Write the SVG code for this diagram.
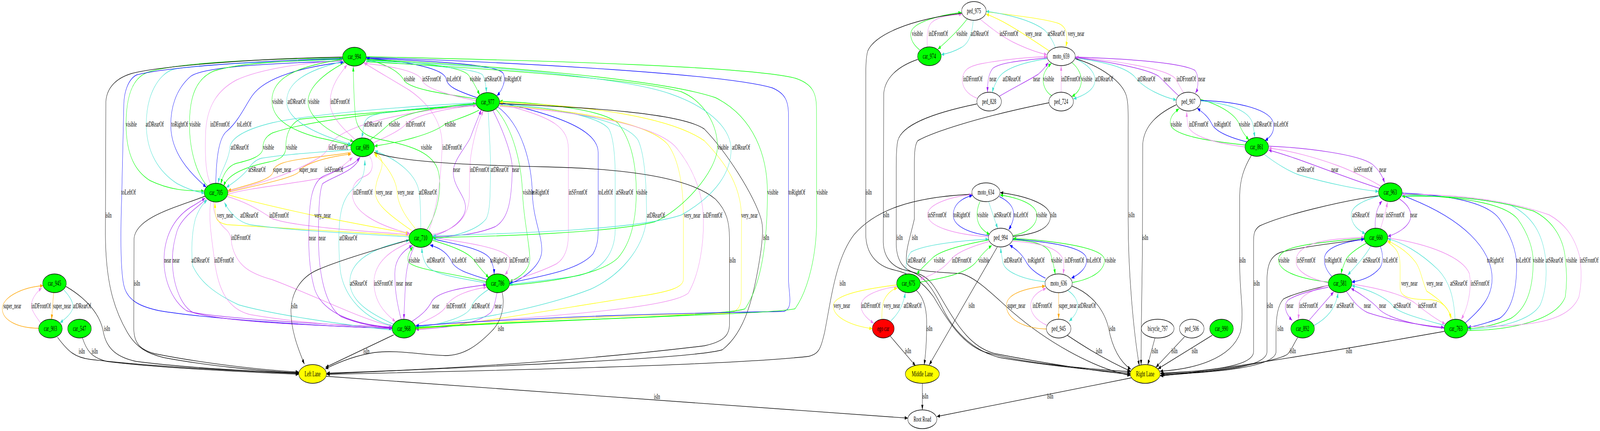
<svg xmlns="http://www.w3.org/2000/svg" width="7043" height="1103" viewBox="0 0 7043 1103" preserveAspectRatio="none" style="max-width:100vw;max-height:100vh">
<style>
text{font-family:"Liberation Serif","Times New Roman",serif;font-size:18px;text-anchor:middle;fill:#000}
.n ellipse{stroke:#000;stroke-width:1.4}
.g ellipse{fill:#00ff00}
.w ellipse{fill:#fff}
.y ellipse{fill:#ffff00}
.r ellipse{fill:#ff0000}
#edges path{fill:none;stroke-width:1.35}
#edges path.k{stroke:#000;marker-end:url(#mk)}
#edges path.G{stroke:#00ff00;marker-end:url(#mG)}
#edges path.T{stroke:#40e0d0;marker-end:url(#mT)}
#edges path.V{stroke:#ee82ee;marker-end:url(#mV)}
#edges path.B{stroke:#0000ff;marker-end:url(#mB)}
#edges path.P{stroke:#a020f0;marker-end:url(#mP)}
#edges path.Y{stroke:#ffff00;marker-end:url(#mY)}
#edges path.O{stroke:#ffa500;marker-end:url(#mO)}
</style>
<defs>
<marker id="mk" viewBox="0 0 14 10" refX="13.3" refY="5" markerWidth="14" markerHeight="10" markerUnits="userSpaceOnUse" orient="auto"><path d="M0,0.3 L13.3,5 L0,9.7 Z" fill="#000"/></marker>
<marker id="mG" viewBox="0 0 14 10" refX="13.3" refY="5" markerWidth="14" markerHeight="10" markerUnits="userSpaceOnUse" orient="auto"><path d="M0,0.3 L13.3,5 L0,9.7 Z" fill="#00ff00"/></marker>
<marker id="mT" viewBox="0 0 14 10" refX="13.3" refY="5" markerWidth="14" markerHeight="10" markerUnits="userSpaceOnUse" orient="auto"><path d="M0,0.3 L13.3,5 L0,9.7 Z" fill="#40e0d0"/></marker>
<marker id="mV" viewBox="0 0 14 10" refX="13.3" refY="5" markerWidth="14" markerHeight="10" markerUnits="userSpaceOnUse" orient="auto"><path d="M0,0.3 L13.3,5 L0,9.7 Z" fill="#ee82ee"/></marker>
<marker id="mB" viewBox="0 0 14 10" refX="13.3" refY="5" markerWidth="14" markerHeight="10" markerUnits="userSpaceOnUse" orient="auto"><path d="M0,0.3 L13.3,5 L0,9.7 Z" fill="#0000ff"/></marker>
<marker id="mP" viewBox="0 0 14 10" refX="13.3" refY="5" markerWidth="14" markerHeight="10" markerUnits="userSpaceOnUse" orient="auto"><path d="M0,0.3 L13.3,5 L0,9.7 Z" fill="#a020f0"/></marker>
<marker id="mY" viewBox="0 0 14 10" refX="13.3" refY="5" markerWidth="14" markerHeight="10" markerUnits="userSpaceOnUse" orient="auto"><path d="M0,0.3 L13.3,5 L0,9.7 Z" fill="#ffff00"/></marker>
<marker id="mO" viewBox="0 0 14 10" refX="13.3" refY="5" markerWidth="14" markerHeight="10" markerUnits="userSpaceOnUse" orient="auto"><path d="M0,0.3 L13.3,5 L0,9.7 Z" fill="#ffa500"/></marker>
</defs>
<rect width="7043" height="1103" fill="#fff"/>
<g id="edges">
<path class="G" d="M1508,148 C1300,150 800,155 650,185 C580,200 555,250 555,318 C555,400 600,440 660,462 C760,490 840,488 899,489"/>
<path class="T" d="M1508,152 C1200,158 850,165 760,178 C700,190 644,240 644,318 C644,390 700,440 780,470 C830,485 870,492 900,494"/>
<path class="B" d="M1508,156 C1200,162 900,170 840,195 C770,230 750,280 752,325 C755,390 830,440 908,479"/>
<path class="G" d="M914,477 C870,450 834,390 834,318 C834,240 870,200 940,182 C1050,160 1300,155 1508,151"/>
<path class="V" d="M927,470 C905,445 902,400 905,340 C910,270 960,230 1040,205 C1150,175 1350,160 1510,155"/>
<path class="B" d="M950,469 C952,400 965,350 1000,335 C1050,310 1080,270 1110,245 C1170,195 1350,170 1513,159"/>
<path class="k" d="M1508,146 C1100,150 700,170 580,188 C510,200 470,225 466,260 L464,600 C465,720 500,790 560,850 C600,890 650,905 720,915 C900,935 1150,950 1315,954"/>
<path class="B" d="M1508,150 C1100,155 700,175 600,192 C560,205 546,240 545,268 L536,497 C530,600 530,690 545,730 C560,770 620,785 700,795 C900,815 1400,835 1726,840"/>
<path class="k" d="M903,502 C780,530 600,555 590,610 L589,840 C589,880 620,895 680,905 C850,925 1100,945 1315,952"/>
<path class="P" d="M1727,837 C1400,830 900,812 820,795 C760,770 722,720 722,666 C722,610 760,560 840,530 C870,520 890,512 903,507"/>
<path class="P" d="M908,510 C880,525 800,555 780,590 C765,620 759,640 759,666 C759,720 790,780 850,800 C1000,825 1400,833 1727,841"/>
<path class="T" d="M1728,845 C1500,830 1200,805 1050,780 C940,750 880,720 848,680 C842,650 842,600 860,560 C875,535 895,520 912,512"/>
<path class="V" d="M928,516 C915,560 935,620 944,666 C960,740 1000,790 1100,805 C1300,825 1550,836 1727,839"/>
<path class="V" d="M940,516 C935,545 960,570 1000,590 C1015,600 1018,610 1020,625 C1040,680 1100,700 1200,716 C1400,760 1600,820 1728,835"/>
<path class="Y" d="M1800,603 C1500,592 1200,582 1000,575 C955,570 948,560 947,540 L946,519"/>
<path class="T" d="M1800,606 C1500,596 1250,588 1100,575 C1050,568 1010,545 988,518"/>
<path class="V" d="M1001,503 C1100,520 1160,545 1200,560 C1300,580 1600,592 1800,600"/>
<path class="Y" d="M1002,498 C1100,515 1250,535 1378,551 C1550,570 1700,588 1800,597"/>
<path class="T" d="M2096,263 C1700,275 1350,295 1200,314 C1050,335 1015,360 1012,377 C1008,410 970,440 960,469"/>
<path class="G" d="M2096,266 C1700,285 1350,310 1200,340 C1165,350 1157,365 1157,380 C1155,400 1100,410 1040,418 C1000,425 980,450 972,471"/>
<path class="G" d="M2097,270 C1700,285 1400,300 1320,305 C1270,320 1258,350 1258,377 C1258,400 1230,410 1180,415 C1060,430 1000,450 984,477"/>
<path class="T" d="M1545,383 C1400,390 1250,395 1150,405 C1120,410 1100,425 1090,434 C1060,455 1020,470 996,480"/>
<path class="O" d="M1546,390 C1450,400 1300,405 1240,418 C1210,425 1203,432 1202,440 C1195,460 1100,472 1003,488"/>
<path class="O" d="M1003,492 C1150,472 1290,455 1316,440 C1325,425 1400,405 1546,394"/>
<path class="V" d="M1003,497 C1100,480 1300,470 1420,455 C1480,440 1520,420 1552,403"/>
<path class="V" d="M1002,490 C1150,470 1300,440 1400,405 C1430,395 1440,385 1445,377 C1480,330 1700,290 2095,268"/>
<path class="G" d="M1508,152 C1300,170 1200,200 1197,255 C1195,300 1260,330 1400,352 C1480,362 1520,368 1546,373"/>
<path class="T" d="M1510,157 C1350,180 1262,210 1262,260 C1262,310 1400,345 1546,370"/>
<path class="G" d="M1518,160 C1420,190 1356,225 1356,260 C1356,305 1470,345 1556,362"/>
<path class="V" d="M1562,356 C1490,320 1451,290 1453,260 C1455,220 1495,190 1528,166"/>
<path class="G" d="M2097,253 C1950,240 1800,228 1778,205 C1755,180 1680,160 1612,152"/>
<path class="V" d="M2098,258 C1990,245 1870,228 1858,205 C1840,180 1700,168 1604,162"/>
<path class="B" d="M2100,250 C2010,232 1970,222 1964,202 C1955,175 1800,158 1613,149"/>
<path class="G" d="M1612,153 C1850,160 2030,170 2062,192 C2080,206 2098,226 2112,243"/>
<path class="T" d="M1612,157 C1850,165 2100,175 2125,192 C2136,205 2140,220 2141,237"/>
<path class="B" d="M1612,149 C1900,156 2195,165 2215,188 C2230,205 2210,232 2187,245"/>
<path class="T" d="M2095,268 C1850,275 1680,285 1630,298 C1605,305 1600,318 1599,330 C1597,340 1594,348 1592,353"/>
<path class="G" d="M1628,358 C1660,345 1690,330 1712,318 C1760,290 1950,270 2095,265"/>
<path class="V" d="M1642,366 C1700,350 1760,335 1786,318 C1820,295 1980,275 2097,270"/>
<path class="G" d="M2108,282 C2050,300 1980,310 1958,318 C1900,345 1750,365 1648,374"/>
<path class="G" d="M1880,587 C1930,540 1945,480 1930,440 C1910,390 1800,372 1700,360 C1620,352 1575,340 1565,300 C1558,260 1556,210 1555,170"/>
<path class="V" d="M1888,590 C1920,540 1940,470 1946,377 C1950,320 1900,270 1800,230 C1700,195 1640,175 1600,160"/>
<path class="V" d="M1626,399 C1645,415 1645,440 1610,450 C1565,460 1550,475 1551,497 C1552,540 1650,575 1805,598"/>
<path class="Y" d="M1812,590 C1700,545 1652,520 1652,492 C1652,460 1680,440 1682,421 C1683,405 1665,395 1645,390"/>
<path class="Y" d="M1830,586 C1800,565 1752,530 1748,492 C1745,460 1700,420 1647,394"/>
<path class="T" d="M1852,585 C1852,540 1850,510 1845,492 C1835,450 1760,410 1650,386"/>
<path class="P" d="M1727,838 C1550,830 1420,800 1385,740 C1365,700 1359,650 1359,609 C1359,520 1370,470 1420,452 C1500,430 1560,425 1583,402"/>
<path class="P" d="M1586,402 C1560,440 1470,450 1420,470 C1405,490 1402,540 1402,609 C1402,700 1430,780 1500,810 C1580,830 1660,836 1727,840"/>
<path class="T" d="M1728,834 C1600,815 1520,760 1500,700 C1493,670 1491,640 1492,600 C1494,540 1510,505 1560,480 C1600,460 1606,440 1606,410"/>
<path class="T" d="M1733,830 C1640,805 1545,775 1540,725 C1537,680 1600,650 1700,630 C1750,620 1780,617 1801,615"/>
<path class="V" d="M1806,620 C1720,640 1650,670 1646,720 C1645,770 1690,800 1741,823"/>
<path class="P" d="M1766,818 C1745,770 1738,740 1738,700 C1738,660 1780,640 1815,628"/>
<path class="P" d="M1823,631 C1800,660 1787,690 1785,725 C1782,760 1779,790 1778,817"/>
<path class="G" d="M2140,721 C2000,700 1820,690 1798,670 C1790,660 1800,645 1818,631"/>
<path class="T" d="M2140,724 C2000,710 1900,700 1880,680 C1862,665 1858,650 1857,634"/>
<path class="B" d="M2143,715 C2060,700 2000,690 1985,666 C1960,640 1920,632 1893,627"/>
<path class="G" d="M1904,615 C1990,630 2060,645 2087,666 C2110,685 2135,700 2152,711"/>
<path class="B" d="M1904,611 C2000,625 2120,635 2155,660 C2170,675 2175,690 2175,702"/>
<path class="V" d="M1904,608 C2050,620 2220,635 2242,660 C2250,680 2235,695 2222,703"/>
<path class="P" d="M1812,823 C1860,805 1885,790 1902,770 C1930,745 2050,735 2141,729"/>
<path class="V" d="M1826,833 C1900,815 1950,800 1965,783 C1990,755 2080,740 2142,735"/>
<path class="T" d="M2152,740 C2100,760 2080,775 2075,785 C2060,810 1950,830 1830,838"/>
<path class="P" d="M2188,749 C2180,770 2175,790 2160,800 C2100,830 1950,840 1830,843"/>
<path class="P" d="M1904,604 C1990,590 2050,560 2049,530 C2048,500 1996,480 1995,440 C1994,410 2060,370 2072,350 C2090,320 2108,298 2118,281"/>
<path class="V" d="M1903,600 C2000,590 2065,560 2066,500 C2067,460 2066,420 2075,390 C2090,340 2110,305 2128,283"/>
<path class="T" d="M2149,285 C2155,350 2160,400 2159,434 C2158,500 2158,540 2140,560 C2100,590 2000,605 1905,612"/>
<path class="P" d="M2170,283 C2220,340 2256,400 2255,434 C2252,510 2240,560 2180,580 C2100,600 2000,605 1905,606"/>
<path class="G" d="M2183,279 C2260,330 2295,420 2300,492 C2305,560 2330,620 2332,660 C2334,690 2290,710 2243,721"/>
<path class="B" d="M2190,273 C2300,320 2340,420 2343,492 C2346,560 2385,600 2385,640 C2385,680 2300,715 2243,726"/>
<path class="V" d="M2243,720 C2330,705 2400,690 2450,675 C2490,660 2502,630 2502,600 L2502,380 C2500,330 2450,300 2200,266"/>
<path class="B" d="M2243,724 C2400,705 2550,690 2610,650 C2630,630 2633,610 2633,590 L2633,390 C2633,340 2500,300 2199,262"/>
<path class="T" d="M2199,265 C2450,275 2640,300 2680,330 C2700,350 2708,400 2708,450 L2708,590 C2706,650 2650,690 2550,705 C2450,715 2330,722 2243,728"/>
<path class="G" d="M2243,730 C2450,720 2650,700 2720,660 C2780,620 2800,560 2801,492 C2800,420 2780,360 2720,315 C2650,280 2400,265 2199,259"/>
<path class="T" d="M2199,268 C2500,280 2760,310 2810,360 C2840,400 2846,480 2846,551 C2846,620 2750,700 2600,740 C2400,785 2100,820 1830,836"/>
<path class="Y" d="M2199,270 C2500,280 2850,310 2940,370 C2990,410 3008,480 3008,551 L3008,715 C3008,735 2950,745 2850,755 C2500,785 2100,830 1830,840"/>
<path class="V" d="M2199,272 C2550,285 2900,320 2980,380 C3050,430 3090,490 3096,551 C3100,620 3080,700 3030,750 C2950,790 2400,810 1830,834"/>
<path class="Y" d="M1830,842 C2300,815 2900,805 3200,802 C3250,800 3263,780 3263,760 L3264,560 C3265,480 3200,420 3100,360 C2950,300 2600,270 2200,262"/>
<path class="k" d="M2199,265 C2600,275 3000,290 3100,330 C3200,390 3320,500 3350,560 C3360,580 3358,600 3350,640 C3320,760 3280,850 3180,895 C3050,920 2000,940 1438,957"/>
<path class="k" d="M1647,390 C1750,412 2000,422 2400,427 C2800,432 3050,460 3150,510 C3200,540 3211,570 3211,610 L3211,830 C3211,860 3180,875 3100,885 C2600,920 2000,945 1438,955"/>
<path class="G" d="M1612,158 C2000,170 2800,200 3000,235 C3100,260 3160,320 3158,377 C3155,440 3000,540 2880,568 C2700,595 2200,605 1904,608"/>
<path class="T" d="M1612,155 C2000,165 2700,190 2950,240 C3100,270 3210,320 3218,377 C3222,440 3150,500 3000,550 C2800,590 2200,598 1904,604"/>
<path class="G" d="M1612,152 C2100,165 2900,200 3150,250 C3320,300 3378,400 3378,492 C3378,600 3360,720 3280,790 C3200,810 2400,818 1830,838"/>
<path class="B" d="M1612,147 C2300,160 3200,190 3400,225 C3460,240 3471,260 3471,300 L3471,720 C3475,760 3490,790 3450,797 C3200,800 2500,805 1830,834"/>
<path class="G" d="M1612,145 C2400,155 3300,170 3500,200 C3580,215 3594,240 3594,280 L3595,560 C3595,650 3560,740 3500,790 C3400,805 2500,815 1830,840"/>
<path class="k" d="M2210,748 C2222,775 2215,820 2160,850 C2100,885 2040,910 1960,910 C1850,908 1750,895 1650,902 C1560,910 1480,930 1432,944"/>
<path class="k" d="M1733,857 L1433,940"/>
<path class="k" d="M1800,614 C1650,640 1500,665 1400,690 C1320,710 1285,750 1281,790 C1278,840 1310,890 1340,932"/>
<path class="k" d="M290,733 C370,760 440,800 455,850 C470,895 520,915 600,925 C800,940 1100,950 1315,955"/>
<path class="k" d="M253,863 C300,900 330,915 400,920 C700,940 1100,950 1315,956"/>
<path class="k" d="M363,865 C380,895 400,915 470,925 C700,942 1100,952 1315,958"/>
<path class="O" d="M171,840 C80,840 10,820 10,790 C10,760 100,735 190,731"/>
<path class="V" d="M180,827 C150,805 138,790 138,783 C138,765 160,748 184,737"/>
<path class="O" d="M236,749 L227,818"/>
<path class="T" d="M281,742 C310,760 322,775 321,785 C320,800 290,815 264,826"/>
<path class="k" d="M1435,963 C2000,985 3000,1030 3996,1070"/>
<path class="G" d="M4051,129 C4020,115 4008,100 4009,86 C4012,55 4150,38 4232,32"/>
<path class="V" d="M4082,121 C4080,95 4080,70 4100,58 C4130,42 4180,38 4234,37"/>
<path class="G" d="M4258,48 C4230,70 4180,100 4128,126"/>
<path class="T" d="M4284,52 C4280,80 4270,110 4230,122 C4200,132 4170,137 4143,140"/>
<path class="V" d="M4314,49 C4360,70 4400,90 4460,108 C4520,125 4570,135 4609,140"/>
<path class="Y" d="M4620,131 C4580,115 4540,100 4500,85 C4440,63 4390,46 4340,36"/>
<path class="Y" d="M4340,30 C4450,38 4600,48 4660,60 C4700,70 4700,95 4692,120"/>
<path class="T" d="M4646,122 C4635,105 4620,90 4600,78 C4540,50 4420,35 4341,29"/>
<path class="V" d="M4303,252 C4250,240 4235,220 4236,202 C4240,180 4260,170 4320,163 C4420,152 4530,146 4609,145"/>
<path class="P" d="M4610,148 C4500,155 4400,160 4370,175 C4350,190 4347,210 4347,236"/>
<path class="T" d="M4610,150 C4500,160 4420,175 4395,200 C4380,215 4372,225 4368,237"/>
<path class="P" d="M4400,246 C4460,225 4530,205 4570,190 C4595,178 4605,168 4615,160"/>
<path class="G" d="M4630,245 C4600,235 4590,215 4592,200 C4594,185 4610,172 4628,162"/>
<path class="V" d="M4671,236 L4671,168"/>
<path class="G" d="M4718,160 C4750,175 4762,195 4760,210 C4756,228 4740,240 4718,247"/>
<path class="T" d="M4733,150 C4790,165 4820,185 4820,205 C4820,230 4770,245 4725,253"/>
<path class="T" d="M4733,148 C4850,158 4960,170 5000,200 C5040,228 5120,248 5178,256"/>
<path class="P" d="M5190,246 C5150,225 5120,205 5100,195 C5050,175 4850,155 4733,147"/>
<path class="V" d="M5210,237 C5195,225 5185,210 5175,202 C5140,175 4900,155 4735,146"/>
<path class="P" d="M4733,146 C4950,150 5200,160 5260,180 C5280,195 5275,225 5262,238"/>
<path class="k" d="M4733,150 C4850,170 4940,210 4958,245 C4968,265 4966,300 4966,330 L4966,560 C4966,700 4990,850 5015,936"/>
<path class="k" d="M4234,34 C4000,50 3850,90 3820,130 C3812,145 3811,170 3811,200 L3811,600 C3812,650 3860,680 3930,690 C4010,700 4060,720 4110,760 C4180,830 4240,880 4330,900 C4500,930 4800,945 4976,951"/>
<path class="k" d="M4040,152 C3950,170 3895,200 3890,240 L3888,620 C3890,660 3930,685 3990,692 C4060,700 4100,730 4150,790 C4210,860 4300,900 4400,915 C4600,935 4850,950 4976,955"/>
<path class="k" d="M4300,266 C4100,290 3970,320 3952,360 C3946,375 3945,400 3945,430 L3945,627 C3948,670 3980,693 4040,700 C4090,710 4110,730 4150,770 C4220,840 4280,890 4380,905 C4600,930 4850,952 4976,958"/>
<path class="k" d="M4617,263 C4300,300 4100,340 4040,360 C4027,370 4025,390 4025,420 L4025,560 C4010,600 3985,640 3990,670 C4000,690 4050,695 4230,700 C4300,710 4380,760 4460,800 C4600,870 4800,940 4976,961"/>
<path class="k" d="M5178,268 C5100,290 5035,320 5030,370 L5029,620 C5027,750 5022,860 5023,934"/>
<path class="k" d="M5508,398 C5475,430 5458,460 5457,500 L5457,680 C5458,760 5478,800 5460,850 C5420,920 5250,945 5106,950"/>
<path class="k" d="M6068,501 C5900,515 5650,550 5545,578 C5520,588 5518,600 5518,620 L5518,900 C5518,940 5300,950 5108,955"/>
<path class="k" d="M6006,612 C5900,620 5750,630 5640,645 C5590,655 5577,680 5577,720 L5577,900 C5577,945 5300,952 5110,957"/>
<path class="k" d="M5848,730 C5780,740 5700,750 5650,765 C5625,780 5617,810 5617,850 L5617,900 C5615,940 5350,953 5112,959"/>
<path class="k" d="M5712,864 C5695,880 5685,895 5670,905 C5640,925 5300,955 5107,961"/>
<path class="k" d="M6358,848 C6000,885 5400,945 5107,962"/>
<path class="k" d="M4718,732 C4800,750 4860,790 4880,840 C4900,900 4940,930 4978,945"/>
<path class="k" d="M4698,858 C4780,890 4880,925 4977,950"/>
<path class="k" d="M5084,865 L5052,934"/>
<path class="k" d="M5214,862 L5088,940"/>
<path class="k" d="M5336,858 L5097,944"/>
<path class="k" d="M4980,967 L4124,1066"/>
<path class="k" d="M4060,981 L4060,1049"/>
<path class="k" d="M4390,632 L4090,934"/>
<path class="k" d="M4033,743 C4065,760 4080,790 4079,830 C4079,880 4074,910 4068,934"/>
<path class="k" d="M3917,859 L4030,936"/>
<path class="k" d="M4278,497 C4000,505 3850,540 3760,600 C3680,660 3660,760 3630,850 C3610,900 3600,905 3560,912 C3200,935 2200,948 1438,958"/>
<path class="k" d="M4459,605 C4540,600 4620,590 4624,555 C4626,520 4500,500 4403,493"/>
<path class="V" d="M4352,606 C4200,600 4085,580 4083,550 C4082,520 4200,502 4279,498"/>
<path class="B" d="M4352,603 C4250,595 4195,575 4196,550 C4197,520 4240,506 4281,500"/>
<path class="G" d="M4314,516 C4302,530 4299,545 4302,560 C4308,580 4330,592 4357,600"/>
<path class="T" d="M4352,516 C4365,540 4380,565 4392,585"/>
<path class="B" d="M4399,503 C4440,515 4465,530 4462,552 C4460,568 4450,578 4440,588"/>
<path class="G" d="M4458,603 C4530,595 4565,575 4564,550 C4562,520 4470,505 4402,499"/>
<path class="T" d="M3987,701 C3987,680 3990,660 4010,645 C4070,625 4250,615 4351,612"/>
<path class="G" d="M4352,614 C4250,625 4140,640 4105,660 C4070,680 4050,690 4035,703"/>
<path class="V" d="M4355,618 C4280,630 4210,645 4185,665 C4150,690 4100,705 4051,714"/>
<path class="G" d="M4051,722 C4150,712 4260,700 4300,668 C4330,645 4350,635 4366,628"/>
<path class="T" d="M4601,721 C4500,715 4420,695 4414,670 C4410,655 4406,645 4405,634"/>
<path class="B" d="M4602,712 C4560,700 4530,685 4515,668 C4495,648 4470,637 4444,627"/>
<path class="G" d="M4458,614 C4540,615 4610,625 4625,650 C4635,670 4642,690 4645,702"/>
<path class="V" d="M4458,617 C4550,620 4660,630 4680,665 C4685,680 4682,692 4680,702"/>
<path class="B" d="M4459,612 C4600,618 4770,630 4782,660 C4790,685 4750,702 4716,712"/>
<path class="G" d="M4720,723 C4800,715 4862,695 4862,665 C4860,630 4600,615 4460,610"/>
<path class="V" d="M4607,832 C4560,820 4535,800 4537,780 C4540,760 4570,745 4605,738"/>
<path class="O" d="M4606,842 C4500,840 4430,815 4430,782 C4430,750 4520,738 4601,732"/>
<path class="O" d="M4660,749 L4660,816"/>
<path class="T" d="M4700,743 C4730,755 4745,770 4744,785 C4742,800 4725,812 4706,822"/>
<path class="Y" d="M3948,729 C3800,740 3670,755 3668,782 C3666,815 3760,835 3840,841"/>
<path class="V" d="M3949,733 C3850,742 3790,760 3790,782 C3790,800 3815,815 3846,827"/>
<path class="Y" d="M3882,818 C3882,800 3882,785 3890,770 C3905,750 3930,740 3950,737"/>
<path class="T" d="M3920,822 C3950,805 3975,785 3985,749"/>
<path class="G" d="M5481,371 C5300,360 5160,345 5152,318 C5148,300 5165,290 5190,278"/>
<path class="V" d="M5480,376 C5330,365 5232,345 5228,318 C5225,305 5224,295 5224,286"/>
<path class="B" d="M5488,363 C5400,350 5350,335 5335,318 C5320,300 5300,290 5270,277"/>
<path class="G" d="M5283,254 C5380,270 5440,295 5455,318 C5470,340 5485,350 5498,358"/>
<path class="T" d="M5284,258 C5400,265 5500,280 5515,318 C5520,335 5522,345 5524,352"/>
<path class="B" d="M5285,257 C5450,260 5600,280 5606,318 C5610,340 5590,352 5568,360"/>
<path class="T" d="M5565,395 C5620,420 5680,440 5720,448 C5850,470 5980,485 6068,490"/>
<path class="P" d="M6072,482 C5950,460 5800,425 5700,405 C5650,395 5610,388 5584,384"/>
<path class="V" d="M6078,476 C6000,450 5920,430 5880,422 C5800,405 5680,385 5584,379"/>
<path class="P" d="M5584,374 C5750,378 5980,395 6040,420 C6070,435 6085,450 6095,468"/>
<path class="T" d="M6072,501 C5990,515 5948,530 5948,550 C5948,575 5980,590 6010,598"/>
<path class="P" d="M6053,585 C6053,560 6055,535 6084,514"/>
<path class="V" d="M6077,585 C6090,560 6100,540 6108,517"/>
<path class="P" d="M6160,509 C6200,525 6212,540 6210,555 C6205,580 6150,598 6109,605"/>
<path class="G" d="M5847,722 C5750,715 5630,700 5628,666 C5626,640 5700,630 5800,622 C5900,615 5960,611 6005,610"/>
<path class="V" d="M5846,724 C5760,712 5705,695 5705,668 C5705,640 5760,620 5871,613 C5930,609 5970,609 6006,607"/>
<path class="B" d="M5862,707 C5835,690 5828,675 5830,660 C5835,630 5930,618 6006,612"/>
<path class="G" d="M6016,622 C5960,640 5930,655 5922,668 C5912,682 5906,692 5903,701"/>
<path class="T" d="M6034,630 C6010,655 5970,680 5932,704"/>
<path class="B" d="M6076,630 C6088,650 6090,670 6075,685 C6040,710 5990,718 5950,722"/>
<path class="V" d="M5847,730 C5760,745 5717,760 5717,782 C5717,800 5716,810 5715,818"/>
<path class="P" d="M5762,820 L5871,747"/>
<path class="T" d="M5784,833 C5840,815 5880,790 5890,749"/>
<path class="P" d="M5847,735 C5760,745 5700,755 5670,768 C5650,780 5655,800 5688,820"/>
<path class="P" d="M5926,745 C5960,775 5985,790 6020,800 C6150,825 6280,833 6357,838"/>
<path class="P" d="M6357,840 C6200,830 6100,810 6068,790 C6040,772 5990,752 5947,738"/>
<path class="T" d="M6360,833 C6250,815 6150,800 6130,782 C6100,760 6020,740 5950,731"/>
<path class="V" d="M5950,727 C6100,740 6200,760 6238,780 C6280,800 6330,820 6362,829"/>
<path class="Y" d="M6107,619 C6150,635 6163,650 6163,680 L6163,735 C6163,760 6200,767 6300,767 C6350,770 6380,790 6386,816"/>
<path class="Y" d="M6395,818 C6370,780 6320,760 6280,745 C6260,720 6255,690 6230,670 C6190,640 6140,625 6108,616"/>
<path class="T" d="M6405,817 C6400,760 6380,720 6330,690 C6250,645 6170,620 6109,611"/>
<path class="V" d="M6109,609 C6300,625 6440,660 6468,700 C6480,740 6460,790 6432,817"/>
<path class="B" d="M6449,827 C6520,790 6570,760 6568,710 C6565,640 6450,560 6172,500"/>
<path class="B" d="M6172,494 C6400,500 6550,520 6600,560 C6660,610 6676,650 6676,680 C6676,760 6640,800 6600,815 C6530,830 6490,835 6461,838"/>
<path class="G" d="M6172,497 C6450,505 6620,520 6680,560 C6730,600 6749,640 6749,670 C6748,740 6720,790 6650,815 C6570,835 6500,840 6462,841"/>
<path class="T" d="M6461,843 C6600,840 6740,820 6780,780 C6810,740 6808,690 6803,660 C6790,600 6750,555 6650,525 C6500,505 6300,500 6172,500"/>
<path class="G" d="M6461,846 C6650,845 6850,820 6890,760 C6900,720 6895,690 6890,660 C6880,600 6820,560 6750,540 C6550,505 6350,500 6172,503"/>
<path class="V" d="M6460,836 C6700,835 6900,830 6950,760 C6965,720 6960,690 6955,660 C6930,600 6880,570 6820,550 C6600,505 6350,497 6172,497"/>
</g>
<g id="edge-labels">
<text x="54" y="789">super_near</text><text x="181" y="789">inDFrontOf</text><text x="273" y="789">super_near</text><text x="361" y="789">atDRearOf</text>
<text x="471" y="847">isIn</text><text x="360" y="905">isIn</text><text x="417" y="905">isIn</text>
<text x="478" y="557">isIn</text><text x="566" y="498">toLeftOf</text><text x="603" y="731">isIn</text>
<text x="578" y="324">visible</text><text x="681" y="324">atDRearOf</text><text x="791" y="324">toRightOf</text><text x="859" y="324">visible</text><text x="968" y="324">inDFrontOf</text><text x="1075" y="324">toLeftOf</text>
<text x="1055" y="383">atDRearOf</text><text x="1182" y="383">visible</text><text x="1284" y="383">visible</text><text x="1489" y="383">inDFrontOf</text>
<text x="1131" y="440">atSRearOf</text><text x="1242" y="440">super_near</text><text x="1357" y="440">super_near</text><text x="1469" y="440">inSFrontOf</text>
<text x="991" y="557">very_near</text><text x="1097" y="557">atDRearOf</text><text x="1228" y="557">inDFrontOf</text><text x="1420" y="557">very_near</text>
<text x="738" y="672">near</text><text x="775" y="672">near</text><text x="882" y="672">atDRearOf</text><text x="986" y="672">inDFrontOf</text><text x="1060" y="614">inDFrontOf</text>
<text x="1223" y="266">visible</text><text x="1305" y="266">atDRearOf</text><text x="1382" y="266">visible</text><text x="1497" y="266">inDFrontOf</text>
<text x="1803" y="208">visible</text><text x="1900" y="208">inSFrontOf</text><text x="1998" y="208">toLeftOf</text><text x="2092" y="208">visible</text><text x="2170" y="208">atSRearOf</text><text x="2258" y="208">toRightOf</text>
<text x="1642" y="324">atDRearOf</text><text x="1736" y="324">visible</text><text x="1829" y="324">inDFrontOf</text><text x="1982" y="324">visible</text>
<text x="1877" y="383">visible</text><text x="1990" y="383">inDFrontOf</text>
<text x="2010" y="440">near</text><text x="2111" y="440">inDFrontOf</text><text x="2199" y="440">atDRearOf</text><text x="2270" y="440">near</text>
<text x="1597" y="498">inDFrontOf</text><text x="1691" y="498">very_near</text><text x="1786" y="498">very_near</text><text x="1883" y="498">atDRearOf</text><text x="2326" y="498">visible</text><text x="2380" y="498">toRightOf</text>
<text x="1375" y="615">near</text><text x="1418" y="615">near</text><text x="1533" y="615">atDRearOf</text>
<text x="1824" y="672">visible</text><text x="1918" y="672">atDRearOf</text><text x="2021" y="672">toLeftOf</text><text x="2111" y="672">visible</text><text x="2195" y="672">toRightOf</text><text x="2285" y="672">inDFrontOf</text>
<text x="1296" y="789">isIn</text><text x="1578" y="731">atSRearOf</text><text x="1687" y="731">inSFrontOf</text><text x="1759" y="731">near</text><text x="1799" y="731">near</text>
<text x="1918" y="789">near</text><text x="2008" y="789">inDFrontOf</text><text x="2116" y="789">atDRearOf</text><text x="2193" y="789">near</text>
<text x="2205" y="847">isIn</text><text x="1613" y="905">isIn</text>
<text x="2544" y="498">inSFrontOf</text><text x="2666" y="498">toLeftOf</text><text x="2749" y="498">atSRearOf</text><text x="2825" y="498">visible</text>
<text x="2887" y="557">atDRearOf</text><text x="3047" y="557">very_near</text><text x="3137" y="557">inDFrontOf</text><text x="3299" y="557">very_near</text>
<text x="3183" y="383">visible</text><text x="3262" y="383">atDRearOf</text>
<text x="3402" y="498">visible</text><text x="3508" y="498">toRightOf</text><text x="3619" y="498">visible</text>
<text x="3372" y="614">isIn</text><text x="3225" y="672">isIn</text><text x="2892" y="1021">isIn</text>
<text x="3709" y="731">isIn</text><text x="3824" y="498">isIn</text><text x="3901" y="556">isIn</text><text x="3960" y="614">isIn</text><text x="4027" y="614">isIn</text>
<text x="4038" y="92">visible</text><text x="4130" y="92">inDFrontOf</text><text x="4234" y="92">visible</text><text x="4312" y="92">atDRearOf</text><text x="4441" y="92">inSFrontOf</text><text x="4550" y="92">very_near</text><text x="4649" y="92">atSRearOf</text><text x="4737" y="92">very_near</text>
<text x="4282" y="208">inDFrontOf</text><text x="4371" y="208">near</text><text x="4453" y="208">atDRearOf</text><text x="4563" y="208">near</text><text x="4616" y="208">visible</text><text x="4714" y="208">inDFrontOf</text><text x="4784" y="208">visible</text><text x="4860" y="208">atDRearOf</text>
<text x="5046" y="208">atDRearOf</text><text x="5138" y="208">near</text><text x="5222" y="208">inDFrontOf</text><text x="5290" y="208">near</text>
<text x="5178" y="324">visible</text><text x="5276" y="324">inDFrontOf</text><text x="5381" y="324">toRightOf</text><text x="5478" y="324">visible</text><text x="5558" y="324">atDRearOf</text><text x="5639" y="324">toLeftOf</text>
<text x="4125" y="556">inSFrontOf</text><text x="4234" y="556">toRightOf</text><text x="4326" y="556">visible</text><text x="4413" y="556">atSRearOf</text><text x="4494" y="556">toLeftOf</text><text x="4585" y="556">visible</text><text x="4637" y="556">isIn</text>
<text x="4981" y="556">isIn</text><text x="5041" y="614">isIn</text>
<text x="4035" y="672">atDRearOf</text><text x="4135" y="672">visible</text><text x="4233" y="672">inDFrontOf</text><text x="4331" y="672">visible</text><text x="4459" y="672">atDRearOf</text><text x="4561" y="672">toRightOf</text>
<text x="4651" y="672">visible</text><text x="4729" y="672">inDFrontOf</text><text x="4815" y="672">toLeftOf</text><text x="4887" y="672">visible</text>
<text x="5470" y="672">isIn</text><text x="5532" y="731">isIn</text><text x="5652" y="672">visible</text>
<text x="3706" y="788">very_near</text><text x="3833" y="788">inDFrontOf</text><text x="3926" y="788">very_near</text><text x="4017" y="788">atDRearOf</text><text x="4277" y="788">isIn</text>
<text x="4474" y="788">super_near</text><text x="4588" y="788">inDFrontOf</text><text x="4700" y="788">super_near</text><text x="4784" y="788">atDRearOf</text>
<text x="5590" y="788">isIn</text><text x="5678" y="788">near</text>
<text x="4091" y="847">isIn</text><text x="4896" y="847">isIn</text><text x="5636" y="847">isIn</text>
<text x="3997" y="904">isIn</text><text x="4838" y="904">isIn</text><text x="5084" y="904">isIn</text><text x="5170" y="904">isIn</text><text x="5259" y="904">isIn</text><text x="5691" y="904">isIn</text><text x="5938" y="904">isIn</text>
<text x="4073" y="1020">isIn</text><text x="4623" y="1020">isIn</text>
<text x="5747" y="440">atSRearOf</text><text x="5876" y="440">near</text><text x="6000" y="440">inSFrontOf</text><text x="6087" y="440">near</text>
<text x="5990" y="556">atSRearOf</text><text x="6074" y="556">near</text><text x="6141" y="556">inSFrontOf</text><text x="6223" y="556">near</text>
<text x="5749" y="672">inSFrontOf</text><text x="5869" y="672">toRightOf</text><text x="5950" y="672">visible</text><text x="6037" y="672">atSRearOf</text><text x="6120" y="672">toLeftOf</text>
<text x="6582" y="672">toRightOf</text><text x="6706" y="672">toLeftOf</text><text x="6772" y="672">visible</text><text x="6842" y="672">atSRearOf</text><text x="6918" y="672">visible</text><text x="6995" y="672">inSFrontOf</text>
<text x="6204" y="731">very_near</text><text x="6315" y="731">very_near</text><text x="6421" y="731">atSRearOf</text><text x="6515" y="731">inSFrontOf</text>
<text x="5760" y="788">inSFrontOf</text><text x="5851" y="788">near</text><text x="5921" y="788">atSRearOf</text><text x="6019" y="788">near</text><text x="6086" y="788">near</text><text x="6172" y="788">atSRearOf</text><text x="6283" y="788">inSFrontOf</text>
</g>
<g id="car_994" class="n g"><ellipse cx="1560" cy="145" rx="52" ry="24"/><text x="1560" y="151">car_994</text></g>
<g id="car_977" class="n g"><ellipse cx="2147" cy="261" rx="52" ry="24"/><text x="2147" y="267">car_977</text></g>
<g id="car_689" class="n g"><ellipse cx="1596" cy="377" rx="52" ry="24"/><text x="1596" y="383">car_689</text></g>
<g id="car_705" class="n g"><ellipse cx="951" cy="493" rx="52" ry="24"/><text x="951" y="499">car_705</text></g>
<g id="car_710" class="n g"><ellipse cx="1852" cy="609" rx="52" ry="24"/><text x="1852" y="615">car_710</text></g>
<g id="car_786" class="n g"><ellipse cx="2191" cy="725" rx="52" ry="24"/><text x="2191" y="731">car_786</text></g>
<g id="car_968" class="n g"><ellipse cx="1778" cy="841" rx="52" ry="24"/><text x="1778" y="847">car_968</text></g>
<g id="car_945" class="n g"><ellipse cx="240" cy="725" rx="52" ry="24"/><text x="240" y="731">car_945</text></g>
<g id="car_903" class="n g"><ellipse cx="222" cy="841" rx="52" ry="24"/><text x="222" y="847">car_903</text></g>
<g id="car_547" class="n g"><ellipse cx="350" cy="841" rx="52" ry="24"/><text x="350" y="847">car_547</text></g>
<g id="left_lane" class="n y"><ellipse cx="1376" cy="957" rx="61" ry="24"/><text x="1376" y="963">Left Lane</text></g>
<g id="ped_975" class="n w"><ellipse cx="4287" cy="28" rx="54" ry="24"/><text x="4287" y="34">ped_975</text></g>
<g id="car_974" class="n g"><ellipse cx="4091" cy="144" rx="52" ry="24"/><text x="4091" y="150">car_974</text></g>
<g id="moto_659" class="n w"><ellipse cx="4671" cy="144" rx="62" ry="24"/><text x="4671" y="150">moto_659</text></g>
<g id="ped_828" class="n w"><ellipse cx="4354" cy="260" rx="54" ry="24"/><text x="4354" y="266">ped_828</text></g>
<g id="ped_724" class="n w"><ellipse cx="4671" cy="260" rx="54" ry="24"/><text x="4671" y="266">ped_724</text></g>
<g id="ped_907" class="n w"><ellipse cx="5231" cy="260" rx="54" ry="24"/><text x="5231" y="266">ped_907</text></g>
<g id="car_861" class="n g"><ellipse cx="5532" cy="376" rx="52" ry="24"/><text x="5532" y="382">car_861</text></g>
<g id="moto_634" class="n w"><ellipse cx="4340" cy="492" rx="62" ry="24"/><text x="4340" y="498">moto_634</text></g>
<g id="car_963" class="n g"><ellipse cx="6120" cy="492" rx="52" ry="24"/><text x="6120" y="498">car_963</text></g>
<g id="ped_994" class="n w"><ellipse cx="4405" cy="608" rx="54" ry="24"/><text x="4405" y="614">ped_994</text></g>
<g id="car_660" class="n g"><ellipse cx="6057" cy="608" rx="52" ry="24"/><text x="6057" y="614">car_660</text></g>
<g id="car_675" class="n g"><ellipse cx="3999" cy="725" rx="52" ry="24"/><text x="3999" y="731">car_675</text></g>
<g id="moto_636" class="n w"><ellipse cx="4660" cy="725" rx="60" ry="24"/><text x="4660" y="731">moto_636</text></g>
<g id="car_581" class="n g"><ellipse cx="5899" cy="725" rx="52" ry="24"/><text x="5899" y="731">car_581</text></g>
<g id="ego_car" class="n r"><ellipse cx="3888" cy="841" rx="48" ry="24"/><text x="3888" y="847">ego car</text></g>
<g id="ped_945" class="n w"><ellipse cx="4660" cy="841" rx="54" ry="24"/><text x="4660" y="847">ped_945</text></g>
<g id="bicycle_797" class="n w"><ellipse cx="5096" cy="841" rx="72" ry="24"/><text x="5096" y="847">bicycle_797</text></g>
<g id="ped_506" class="n w"><ellipse cx="5246" cy="841" rx="54" ry="24"/><text x="5246" y="847">ped_506</text></g>
<g id="car_990" class="n g"><ellipse cx="5377" cy="841" rx="52" ry="24"/><text x="5377" y="847">car_990</text></g>
<g id="car_892" class="n g"><ellipse cx="5734" cy="841" rx="52" ry="24"/><text x="5734" y="847">car_892</text></g>
<g id="car_763" class="n g"><ellipse cx="6409" cy="841" rx="52" ry="24"/><text x="6409" y="847">car_763</text></g>
<g id="middle_lane" class="n y"><ellipse cx="4060" cy="957" rx="75" ry="24"/><text x="4060" y="963">Middle Lane</text></g>
<g id="right_lane" class="n y"><ellipse cx="5041" cy="957" rx="66" ry="24"/><text x="5041" y="963">Right Lane</text></g>
<g id="root_road" class="n w"><ellipse cx="4060" cy="1073" rx="64" ry="24"/><text x="4060" y="1079">Root Road</text></g>
</svg>
